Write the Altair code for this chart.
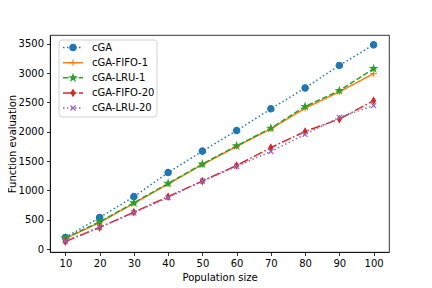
import altair as alt
import pandas as pd

pop = [10, 20, 30, 40, 50, 60, 70, 80, 90, 100]
series = ["cGA", "cGA-FIFO-1", "cGA-LRU-1", "cGA-FIFO-20", "cGA-LRU-20"]
cga = [200, 540, 895, 1305, 1670, 2020, 2390, 2745, 3130, 3480]
fifo1 = [180, 455, 780, 1110, 1440, 1750, 2050, 2400, 2680, 2990]
lru1 = [190, 465, 790, 1120, 1450, 1760, 2060, 2430, 2700, 3075]
fifo20 = [130, 370, 630, 895, 1160, 1425, 1730, 2005, 2215, 2530]
lru20 = [140, 375, 620, 880, 1160, 1410, 1665, 1955, 2245, 2445]
values = [cga, fifo1, lru1, fifo20, lru20]

colors = ["#1f77b4", "#ff7f0e", "#2ca02c", "#d62728", "#9467bd"]
dashes = [[1.5, 2.5], [1, 0], [5.5, 2.4], [9.6, 2.4, 1.5, 2.4], [1.5, 2.5]]
star = ("M0,-1L0.223,-0.307L0.951,-0.309L0.361,0.117L0.588,0.809L0,0.38"
        "L-0.588,0.809L-0.361,0.117L-0.951,-0.309L-0.223,-0.307Z")
shapes = ["circle", "M-1,0L1,0M0,-1L0,1", star, "M0,-1L0.6,0L0,1L-0.6,0Z",
          "M-0.8,-0.8L0.8,0.8M-0.8,0.8L0.8,-0.8"]

rows = []
for s, vals in zip(series, values):
    for p, v in zip(pop, vals):
        rows.append({"pop": p, "val": v, "series": s})
df = pd.DataFrame(rows)
ldf = pd.DataFrame({"series": series})

color_scale = alt.Scale(domain=series, range=colors)
shape_scale = alt.Scale(domain=series, range=shapes)
dash_scale = alt.Scale(domain=series, range=dashes)

x = alt.X("pop:Q", scale=alt.Scale(domain=[5.5, 104.5], nice=False, zero=False),
          axis=alt.Axis(values=pop, format="d", title="Population size", titlePadding=4))
y = alt.Y("val:Q", scale=alt.Scale(domain=[-48, 3648], nice=False, zero=False),
          axis=alt.Axis(values=list(range(0, 3501, 500)), format="d",
                        title="Function evaluation", titlePadding=1))

base = alt.Chart(df)
lines = base.mark_line(strokeWidth=1.5).encode(
    x=x, y=y,
    color=alt.Color("series:N", scale=color_scale, legend=None),
    strokeDash=alt.StrokeDash("series:N", scale=dash_scale, legend=None),
    detail="series:N",
)
points = base.mark_point(filled=True, strokeWidth=1.2, size=40, opacity=1).encode(
    x=x, y=y,
    color=alt.Color("series:N", scale=color_scale, legend=None),
    stroke=alt.Stroke("series:N", scale=color_scale, legend=None),
    shape=alt.Shape("series:N", scale=shape_scale, legend=None),
)
main = alt.layer(lines, points)

ly = alt.Y("series:N", scale=alt.Scale(type="point", domain=series, range=[12.5, 73], padding=0),
           axis=None)
box = alt.Chart(pd.DataFrame({"a": [0]})).mark_rect(
    fill="white", stroke="#cccccc", strokeWidth=1, cornerRadius=3, opacity=0.9
).encode(x=alt.value(9), x2=alt.value(107), y=alt.value(5), y2=alt.value(82))
lrule = alt.Chart(ldf).mark_rule(strokeWidth=1.5).encode(
    x=alt.value(13), x2=alt.value(33), y=ly,
    color=alt.Color("series:N", scale=color_scale, legend=None),
    strokeDash=alt.StrokeDash("series:N", scale=dash_scale, legend=None),
)
lpts = alt.Chart(ldf).mark_point(filled=True, strokeWidth=1.2, size=40, opacity=1).encode(
    x=alt.value(23), y=ly,
    color=alt.Color("series:N", scale=color_scale, legend=None),
    stroke=alt.Stroke("series:N", scale=color_scale, legend=None),
    shape=alt.Shape("series:N", scale=shape_scale, legend=None),
)
ltxt = alt.Chart(ldf).mark_text(align="left", baseline="middle", fontSize=10,
                                font="DejaVu Sans", color="black").encode(
    x=alt.value(42), y=ly, text="series:N")
legend = alt.layer(box, lrule, lpts, ltxt)

chart = alt.layer(main, legend).resolve_scale(y="independent").properties(
    width=339, height=217,
    autosize=alt.AutoSizeParams(type="none"),
    padding={"left": 42, "top": 27, "right": 35, "bottom": 32},
).configure_axis(
    domainColor="black", tickColor="black", labelColor="black", titleColor="black",
    grid=False, labelFont="DejaVu Sans", titleFont="DejaVu Sans",
    labelFontSize=10, titleFontSize=10, titleFontWeight="normal",
    tickSize=3.5, domainWidth=0.8, tickWidth=0.8, labelPadding=3,
).configure_view(stroke="black", strokeWidth=0.8)

chart.save("out.html", embed_options={"renderer": "svg", "actions": False})
